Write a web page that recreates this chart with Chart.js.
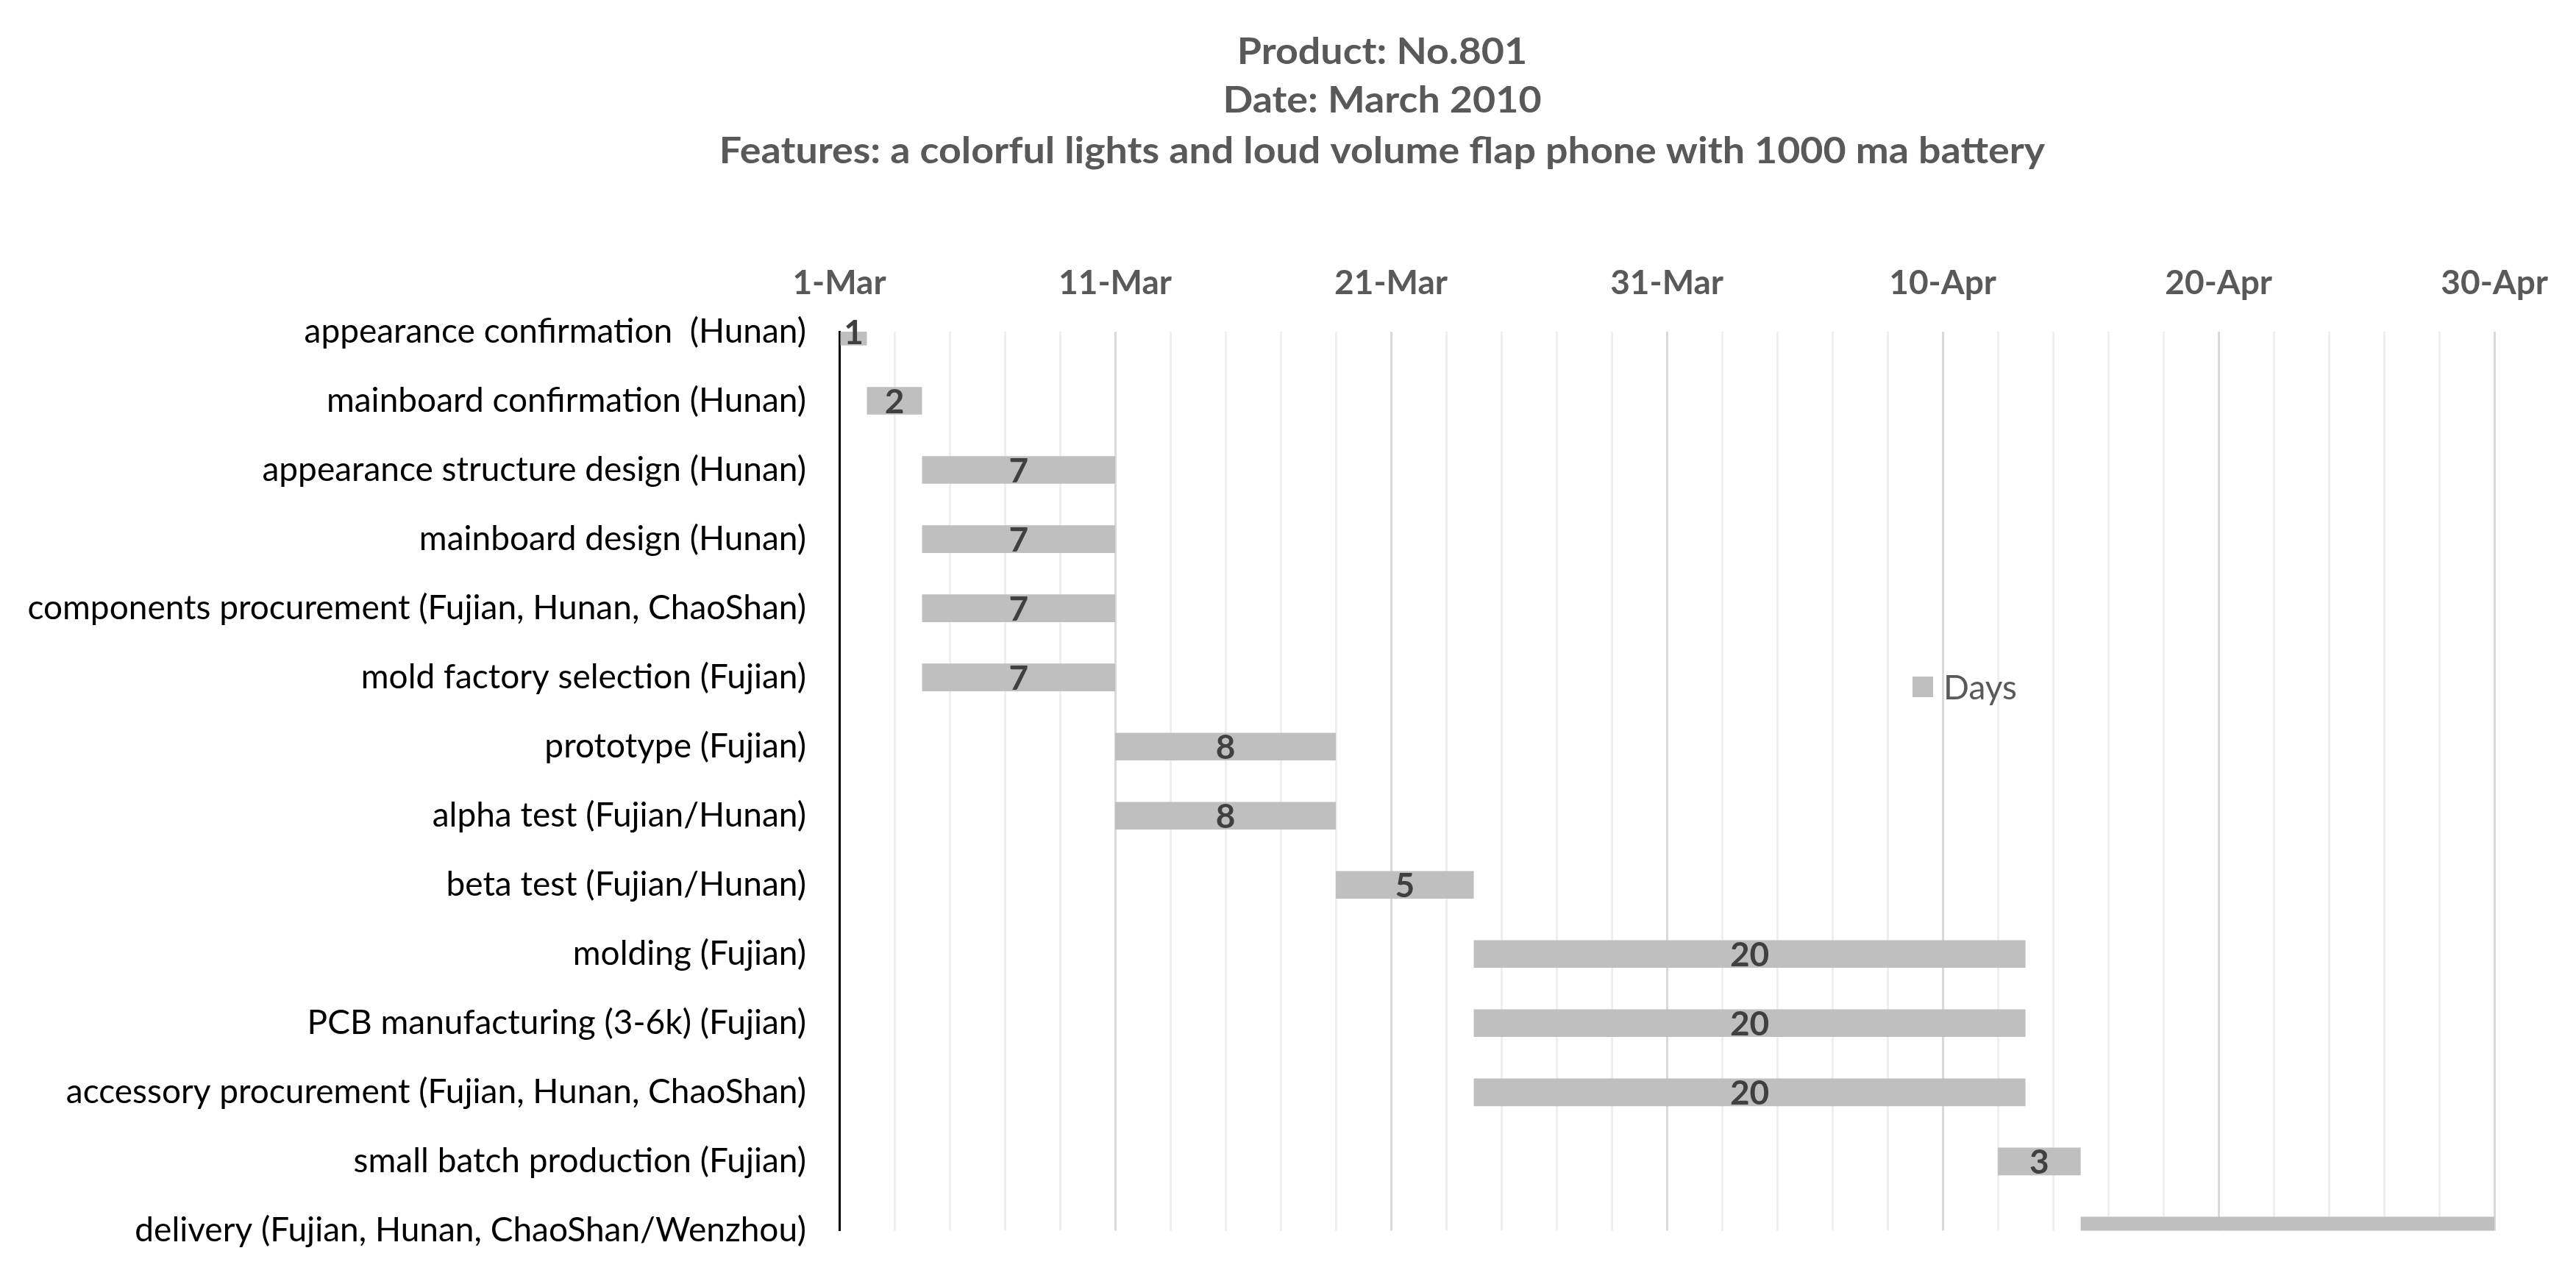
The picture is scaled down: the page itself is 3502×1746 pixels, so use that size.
<!DOCTYPE html>
<html>
<head>
<meta charset="utf-8">
<script src="https://cdn.jsdelivr.net/npm/chart.js@4.4.0/dist/chart.umd.min.js"></script>
<style>
  html, body { margin: 0; padding: 0; background: #fff; overflow: hidden; }
</style>
</head>
<body>
<canvas id="gantt" width="3502" height="1746"></canvas>
<script>
const titleLines = [
  'Product: No.801',
  'Date: March 2010',
  'Features: a colorful lights and loud volume flap phone with 1000 ma battery'
];

const tasks = [
  'appearance confirmation  (Hunan)',
  'mainboard confirmation (Hunan)',
  'appearance structure design (Hunan)',
  'mainboard design (Hunan)',
  'components procurement (Fujian, Hunan, ChaoShan)',
  'mold factory selection (Fujian)',
  'prototype (Fujian)',
  'alpha test (Fujian/Hunan)',
  'beta test (Fujian/Hunan)',
  'molding (Fujian)',
  'PCB manufacturing (3-6k) (Fujian)',
  'accessory procurement (Fujian, Hunan, ChaoShan)',
  'small batch production (Fujian)',
  'delivery (Fujian, Hunan, ChaoShan/Wenzhou)'
];

// start = days after 1-Mar
const startDay = [0, 1, 3, 3, 3, 3, 10, 10, 18, 23, 23, 23, 42, 45];
const days = [1, 2, 7, 7, 7, 7, 8, 8, 5, 20, 20, 20, 3, 15];
// the delivery bar shows no number in the original
const showLabel = [true, true, true, true, true, true, true, true, true, true, true, true, true, false];

const dateTicks = ['1-Mar', '11-Mar', '21-Mar', '31-Mar', '10-Apr', '20-Apr', '30-Apr'];
const seriesName = 'Days';

const FONT = 'Lato, "Open Sans", "Liberation Sans", sans-serif';
const barColor = '#bfbfbf';

const ganttDecor = {
  id: 'ganttDecor',
  afterDatasetsDraw(chart) {
    const ctx = chart.ctx;
    const meta = chart.getDatasetMeta(0);
    ctx.save();
    ctx.font = 'bold 46px ' + FONT;
    ctx.fillStyle = '#404040';
    ctx.textAlign = 'center';
    ctx.textBaseline = 'middle';
    meta.data.forEach((bar, i) => {
      if (!showLabel[i]) return;
      ctx.fillText(String(days[i]), (bar.x + bar.base) / 2, bar.y + 2);
    });
    ctx.restore();
  },
  afterDraw(chart) {
    const ctx = chart.ctx;
    // title, a bit wider than Lato to stand in for Calibri bold
    ctx.save();
    ctx.font = 'bold 50px ' + FONT;
    ctx.fillStyle = '#595959';
    ctx.textAlign = 'center';
    ctx.textBaseline = 'alphabetic';
    ctx.translate(1879, 0);
    ctx.scale(1.075, 1);
    const baselines = [87, 153, 222];
    titleLines.forEach((t, i) => ctx.fillText(t, 0, baselines[i]));
    ctx.restore();

    // legend
    ctx.save();
    ctx.fillStyle = barColor;
    ctx.fillRect(2600, 920, 28, 28);
    ctx.font = '46px ' + FONT;
    ctx.fillStyle = '#595959';
    ctx.textAlign = 'left';
    ctx.textBaseline = 'middle';
    ctx.fillText(chart.data.datasets[0].label, 2642, 936);
    ctx.restore();
  }
};

new Chart(document.getElementById('gantt'), {
  type: 'bar',
  data: {
    labels: tasks,
    datasets: [{
      label: seriesName,
      data: startDay.map((s, i) => [s, s + days[i]]),
      backgroundColor: barColor,
      borderWidth: 0,
      barPercentage: 0.4,
      categoryPercentage: 1,
      clip: 0
    }]
  },
  options: {
    indexAxis: 'y',
    responsive: false,
    animation: false,
    layout: { padding: { left: 0, right: 103, top: 300, bottom: 53 } },
    plugins: {
      legend: { display: false },
      title: { display: false },
      tooltip: { enabled: false }
    },
    scales: {
      x: {
        type: 'linear',
        position: 'top',
        min: 0,
        max: 60,
        grid: {
          color: c => (c.tick && c.tick.value % 10 === 0) ? '#d9d9d9' : '#efefef',
          lineWidth: 3,
          drawTicks: false
        },
        border: { display: false },
        ticks: {
          stepSize: 2,
          maxTicksLimit: 31,
          autoSkip: false,
          maxRotation: 0,
          padding: 38,
          color: '#595959',
          font: { family: FONT, size: 46, weight: 'bold' },
          callback: v => v % 10 === 0 ? dateTicks[v / 10] : ''
        },
        afterFit: s => { s.height = 151; }
      },
      y: {
        type: 'category',
        offset: false,
        grid: { display: false, drawTicks: false },
        border: { display: true, color: '#000000', width: 3 },
        ticks: {
          padding: 45,
          color: '#000000',
          font: { family: FONT, size: 46 }
        },
        afterFit: s => { s.width = 1141; }
      }
    }
  },
  plugins: [ganttDecor]
});
</script>
</body>
</html>
